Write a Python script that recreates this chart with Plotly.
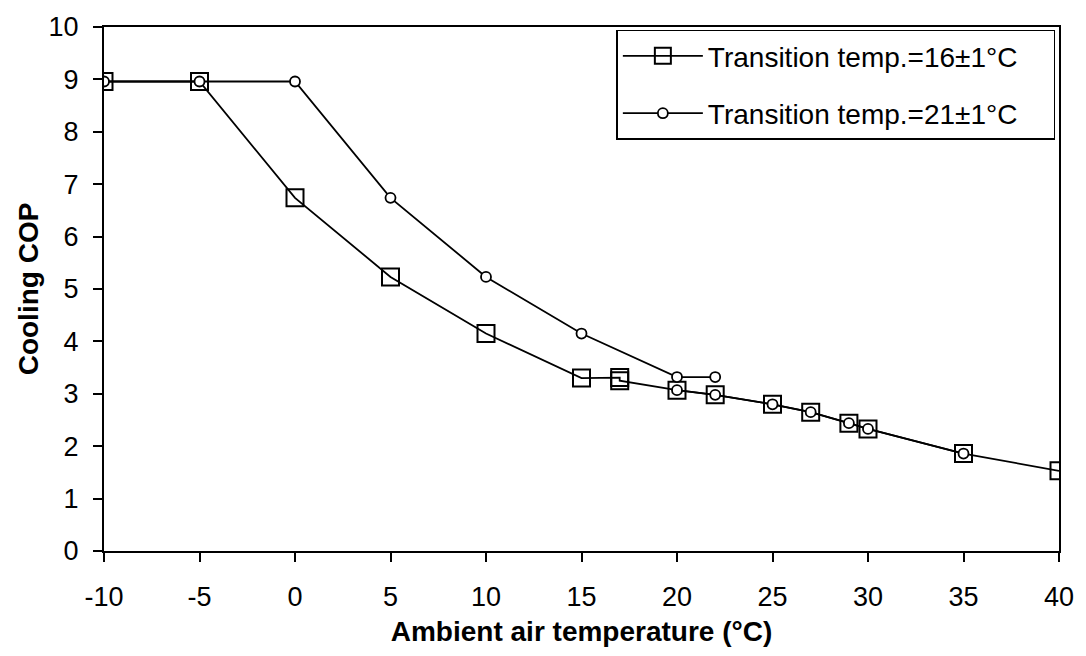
import plotly.graph_objects as go

# Transition temp. = 16±1 °C (square markers)
sq_x = [-10, -5, 0, 5, 10, 15, 17, 17, 20, 22, 25, 27, 29, 30, 35, 40]
sq_y = [8.96, 8.96, 6.74, 5.23, 4.15, 3.30, 3.31, 3.25, 3.07, 2.98, 2.80, 2.65, 2.44, 2.33, 1.86, 1.53]

# Transition temp. = 21±1 °C (circle markers), upper branch
ci_x = [-10, -5, 0, 5, 10, 15, 20, 22]
ci_y = [8.96, 8.96, 8.96, 6.74, 5.23, 4.15, 3.32, 3.32]

# Transition temp. = 21±1 °C, lower branch
ci2_x = [20, 22, 25, 27, 29, 30, 35]
ci2_y = [3.07, 2.98, 2.80, 2.65, 2.44, 2.33, 1.86]

x_ticks = [-10, -5, 0, 5, 10, 15, 20, 25, 30, 35, 40]
y_ticks = [0, 1, 2, 3, 4, 5, 6, 7, 8, 9, 10]

FONT = "Liberation Sans, Arial, sans-serif"
PAD = "\u00a0\u00a0\u00a0\u00a0"

fig = go.Figure()
fig.add_trace(go.Scatter(
    x=sq_x, y=sq_y, mode="lines+markers", name="Transition temp.=16±1°C" + PAD,
    legendgroup="a",
    line=dict(color="black", width=1.8),
    marker=dict(symbol="square-open", size=17, color="black", line=dict(width=2)),
))
fig.add_trace(go.Scatter(
    x=ci2_x, y=ci2_y, mode="lines+markers", name="lower", showlegend=False,
    line=dict(color="black", width=1.8),
    marker=dict(symbol="circle", size=10, color="white", line=dict(width=1.8, color="black")),
))
fig.add_trace(go.Scatter(
    x=ci_x, y=ci_y, mode="lines+markers", name="Transition temp.=21±1°C" + PAD,
    legendgroup="b",
    line=dict(color="black", width=1.8),
    marker=dict(symbol="circle", size=10, color="white", line=dict(width=1.8, color="black")),
))

fig.update_layout(
    width=1086, height=656,
    margin=dict(l=104, r=24, t=23, b=105),
    paper_bgcolor="white", plot_bgcolor="white",
    font=dict(family=FONT, size=27, color="black"),
    showlegend=True,
    legend=dict(
        x=0.5365, y=0.995, xanchor="left", yanchor="top",
        bordercolor="black", borderwidth=1.5, bgcolor="white",
        font=dict(size=28, family=FONT), tracegroupgap=18,
        itemwidth=80,
    ),
    xaxis=dict(
        range=[-10, 40], tickvals=x_ticks, ticktext=[str(v) for v in x_ticks],
        showgrid=False, zeroline=False, showline=True, linecolor="black", linewidth=2,
        mirror=True, ticks="outside", ticklen=9, tickwidth=2, tickcolor="black",
        ticklabelstandoff=12,
        title=dict(text="<b>Ambient air temperature (°C)</b>", font=dict(size=28), standoff=10),
    ),
    yaxis=dict(
        range=[0, 10], tickvals=y_ticks, ticktext=[str(v) for v in y_ticks],
        showgrid=False, zeroline=False, showline=True, linecolor="black", linewidth=2,
        mirror=True, ticks="outside", ticklen=9, tickwidth=2, tickcolor="black",
        ticklabelstandoff=9,
        title=dict(text="<b>Cooling COP</b>", font=dict(size=28), standoff=2),
    ),
)

fig.write_html("out.html")
